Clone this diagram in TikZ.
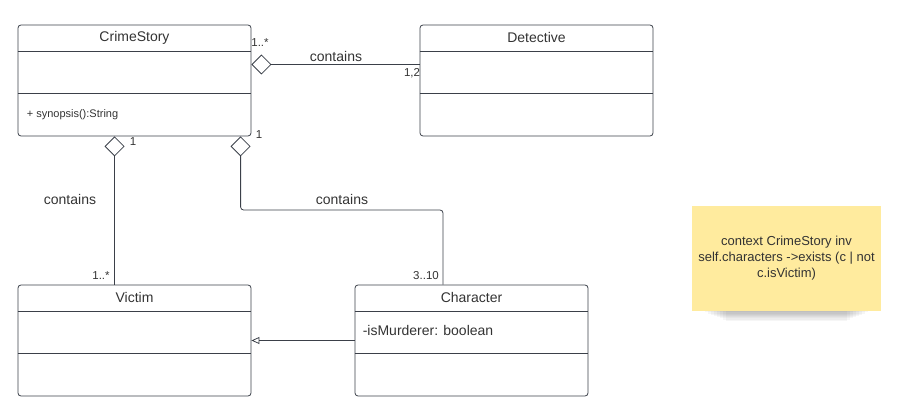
\documentclass[tikz,border=0pt]{standalone}
\usepackage{fontspec}
\setmainfont{Liberation Sans}
\usepackage{tikz}
\usetikzlibrary{arrows.meta}
\definecolor{umlline}{HTML}{3B4049}
\definecolor{umltext}{HTML}{333333}
\definecolor{notefill}{HTML}{FFEB9E}

\begin{document}
\begin{tikzpicture}[x=1pt,y=-1pt,
  classbox/.style={draw=umlline,line width=0.8pt,rounded corners=3pt,minimum width=233pt,minimum height=111pt,inner sep=0pt},
  title/.style={text=umltext,font=\fontsize{14}{16}\selectfont},
  member/.style={text=umltext,anchor=west,inner sep=0pt},
  mult/.style={text=umltext,font=\fontsize{11.5}{13}\selectfont,inner sep=0pt},
  assoc/.style={draw=umlline,line width=0.8pt},
  agg/.style={assoc,{Diamond[open,length=20pt,width=20pt]}-}]
\useasboundingbox (0,0) rectangle (898,414);

% classes
\node[classbox] (story) at (134.5,80.5) {};
\node[classbox] (detective) at (536.5,80.5) {};
\node[classbox] (victim) at (134.5,340.5) {};
\node[classbox] (character) at (471.5,340.5) {};
\foreach \c in {story,detective,victim,character}{
  \draw[assoc] ([yshift=-27pt]\c.north west) -- ([yshift=-27pt]\c.north east);
  \draw[assoc] ([yshift=-69pt]\c.north west) -- ([yshift=-69pt]\c.north east);
}
\node[title] (storyname) at ([yshift=-13pt]story.north) {CrimeStory};
\node[title] (detectivename) at ([yshift=-13pt]detective.north) {Detective};
\node[title] (victimname) at ([yshift=-13pt]victim.north) {Victim};
\node[title] (charactername) at ([yshift=-13pt]character.north) {Character};
\node[member,font=\fontsize{11}{13}\selectfont] (synopsis) at ([xshift=9pt,yshift=-90pt]story.north west) {+ synopsis():String};
\node[member,font=\fontsize{14}{16}\selectfont] (murderer) at ([xshift=8pt,yshift=-46pt]character.north west) {-isMurderer: boolean};

% associations
\draw[agg] ([yshift=16pt]story.east) -- ([yshift=16pt]detective.west);
\draw[agg] ([xshift=97pt]story.south west) -- ([xshift=97pt]victim.north west);
\coordinate (bend) at (443,210);
\draw[agg,rounded corners=3pt] ([xshift=223pt]story.south west) |- (bend) -- (bend |- character.north);
\draw[assoc,-{Triangle[open,length=8pt,width=7pt]}] (character.west) -- (victim.east);

% labels
\node[mult] (storymult) at (260,43) {1..*};
\node[title] (containsdet) at (336,56) {contains};
\node[mult] (detmult) at (412,73) {1,2};
\node[mult] (storyvic) at (133,142) {1};
\node[title] (containsvic) at (70,199) {contains};
\node[mult] (vicmult) at (101,276) {1..*};
\node[mult] (storychar) at (259,135) {1};
\node[title] (containschar) at (342,199) {contains};
\node[mult] (charmult) at (426,276) {3..10};

% OCL note
\node[fill=notefill,minimum width=189pt,minimum height=105pt,align=center,text=umltext,font=\fontsize{13}{16}\selectfont] (ocl) at (786.5,258.5) {context CrimeStory inv\\self.characters ->exists (c | not\\c.isVictim)};
\foreach \k in {1,...,8}
  \fill[black,opacity=0.035] ([xshift=10pt+3*\k pt]ocl.south west) rectangle ([xshift=-10pt-3*\k pt,yshift=-1.2*\k pt]ocl.south east);
\end{tikzpicture}
\end{document}
